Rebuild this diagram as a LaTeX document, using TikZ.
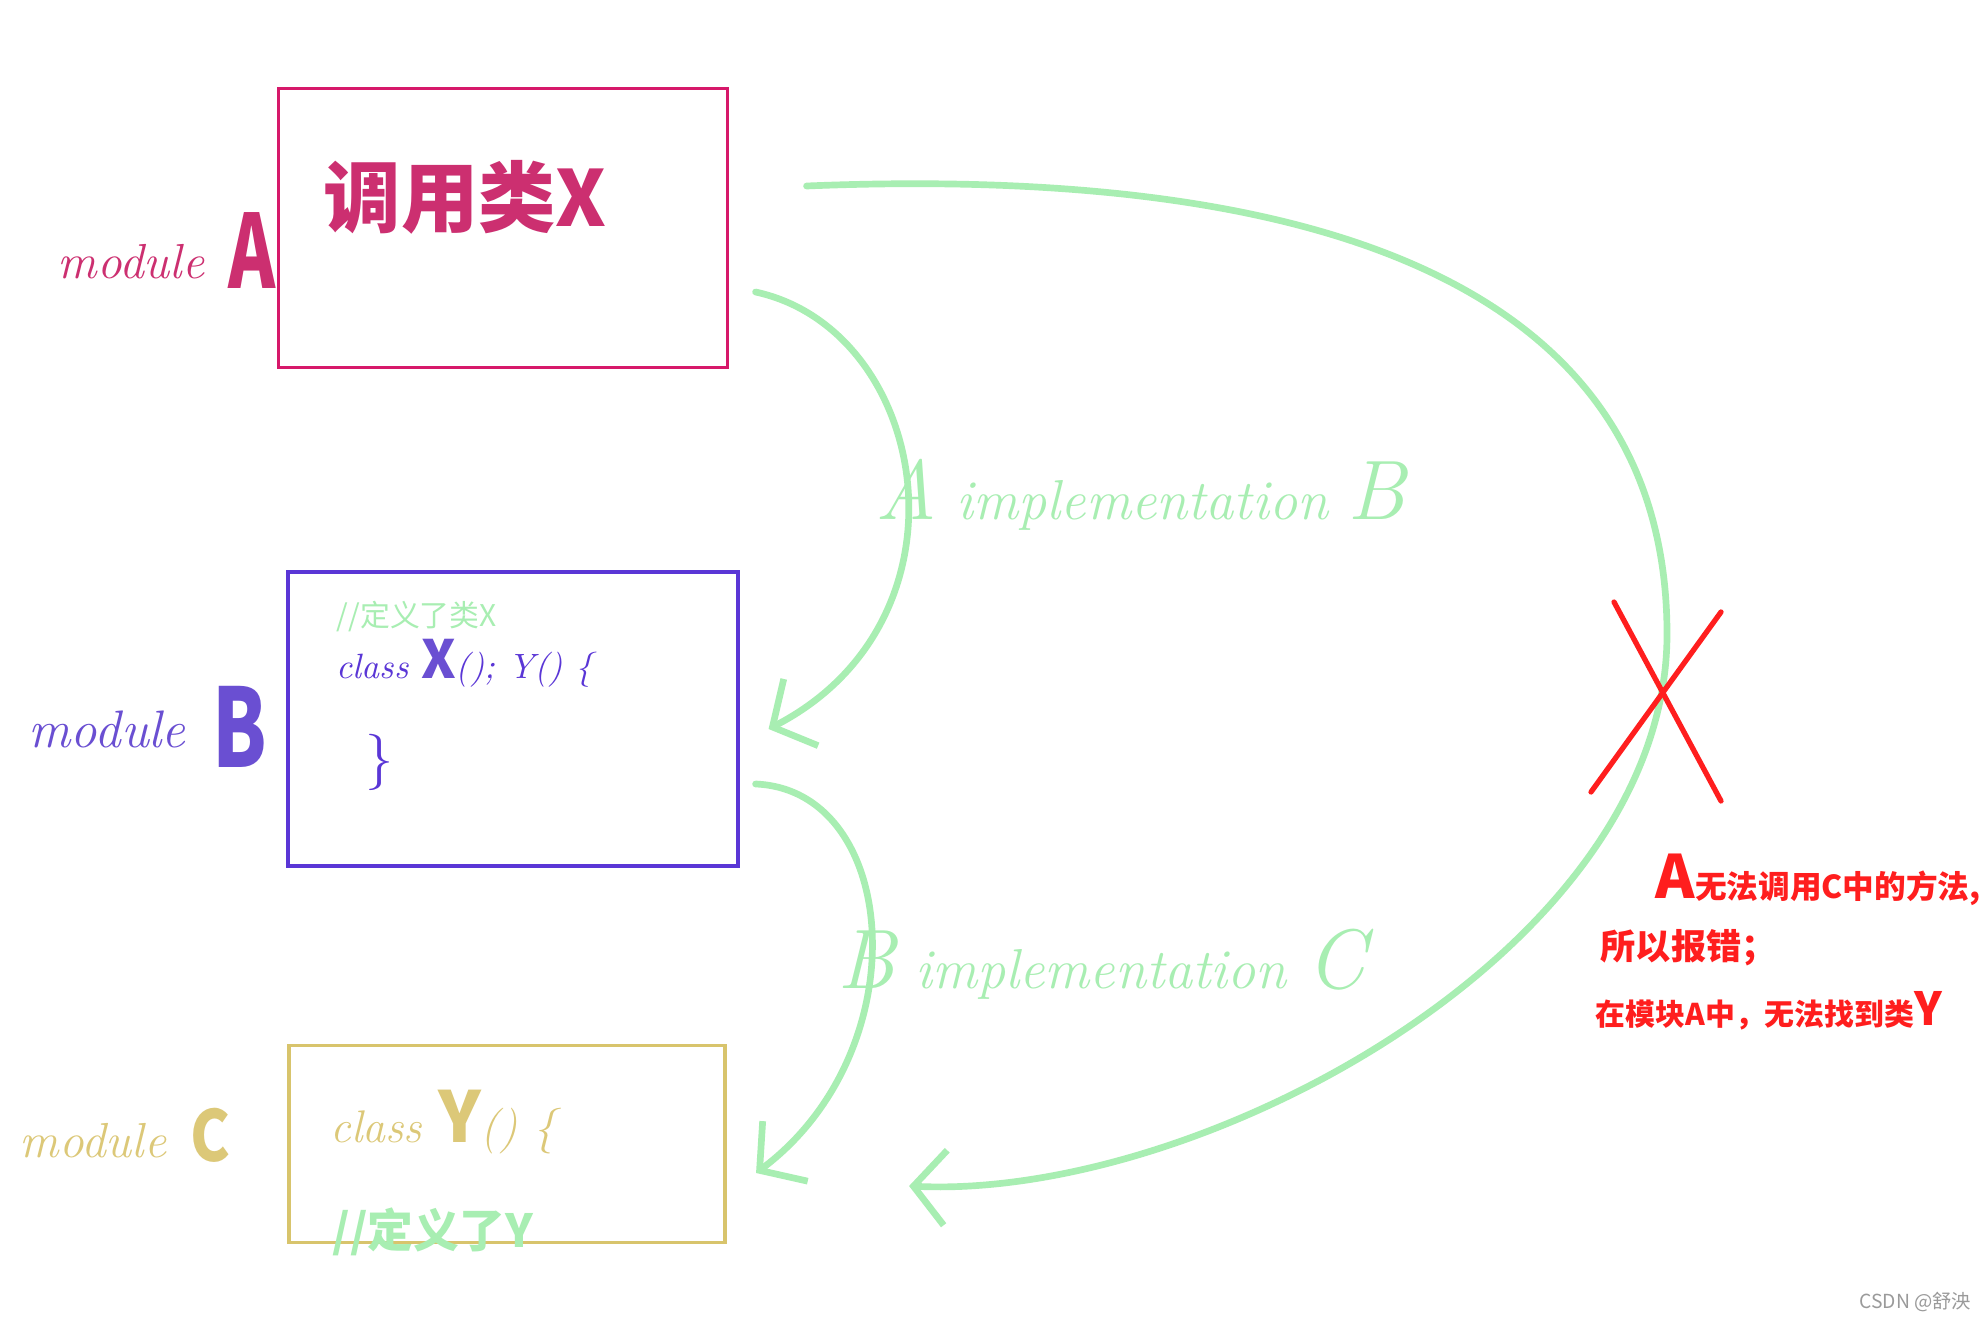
\documentclass[tikz,border=0pt]{standalone}
\usepackage{fontspec}
\newfontfamily\cjk{Noto Sans CJK SC}
\usetikzlibrary{arrows.meta,calc}
\definecolor{modpink}{HTML}{CC2F70}
\definecolor{boxpink}{HTML}{D6186A}
\definecolor{modpurple}{HTML}{6A4FD2}
\definecolor{boxpurple}{HTML}{5A36D6}
\definecolor{modyellow}{HTML}{DCC878}
\definecolor{boxyellow}{HTML}{D8C46C}
\definecolor{softgreen}{HTML}{A8EEB2}
\definecolor{errred}{HTML}{FF1E1E}
\definecolor{markgray}{HTML}{9A9A9A}

\begin{document}
\begin{tikzpicture}[x=0.01cm,y=-0.01cm,
  modbox/.style={draw,rectangle,inner sep=0pt},
  hand/.style={inner sep=0pt,anchor=west},
  flow/.style={draw=softgreen,line width=1.9pt,line cap=round,
    -{Straight Barb[length=3.2mm,width=7.5mm]}}]
\useasboundingbox[fill=white] (0,0) rectangle (1988,1322);

% module boxes
\node[modbox,draw=boxpink,line width=0.8pt,minimum width=4.48cm,minimum height=2.79cm] (boxA) at (503,228) {};
\node[modbox,draw=boxpurple,line width=1.1pt,minimum width=4.49cm,minimum height=2.93cm] (boxB) at (513,719) {};
\node[modbox,draw=boxyellow,line width=1.1pt,minimum width=4.36cm,minimum height=1.97cm] (boxC) at (507,1144) {};

% module names
\node[hand,text=modpink,font=\itshape\fontsize{14}{16}\selectfont] (modA) at (57,262) {module};
\node[hand,text=modpink,font=\cjk\bfseries\fontsize{29}{31}\selectfont] (letA) at (228,251) {\scalebox{0.7}[1]{A}};
\node[hand,text=modpurple,font=\itshape\fontsize{15}{17}\selectfont] (modB) at (28,729) {module};
\node[hand,text=modpurple,font=\cjk\bfseries\fontsize{31}{33}\selectfont] (letB) at (212,727) {\scalebox{0.72}[1]{B}};
\node[hand,text=modyellow,font=\itshape\fontsize{14}{16}\selectfont] (modC) at (19,1141) {module};
\node[hand,text=modyellow,font=\cjk\bfseries\fontsize{20}{22}\selectfont] (letC) at (190,1135) {\scalebox{0.85}[1]{C}};

% box contents
\node[hand,text=modpink,font=\cjk\bfseries\fontsize{22}{24}\selectfont] (callX) at (323,197) {调用类X};
\node[hand,text=softgreen,font=\cjk\fontsize{8.5}{10}\selectfont] (noteX) at (336,617) {//定义了类X};
\node[hand,text=boxpurple,font=\itshape\fontsize{10}{12}\selectfont] (classX) at (336,663)
  {class {\upshape\cjk\bfseries\fontsize{15}{17}\selectfont\color{modpurple}X}(); Y() \{};
\node[hand,text=boxpurple,font=\fontsize{16}{18}\selectfont] (closeB) at (365,762) {\}};
\node[hand,text=modyellow,font=\itshape\fontsize{13}{15}\selectfont] (classY) at (330,1122)
  {class {\upshape\cjk\bfseries\fontsize{20}{22}\selectfont Y}() \{};
\node[hand,text=softgreen,font=\cjk\bfseries\fontsize{13}{15}\selectfont] (noteY) at (332,1232) {//定义了Y};

% arrows
\coordinate (a1s) at ($(boxA.east)+(27,64)$);
\coordinate (a1e) at ($(boxB.east)+(29,10)$);
\coordinate (a2s) at ($(boxB.east)+(16,65)$);
\coordinate (a2e) at ($(boxC.east)+(29,29)$);
\coordinate (bigs) at ($(boxA.north east)+(78,99)$);
\coordinate (bige) at ($(boxC.east)+(182,42)$);
\draw[flow] (a1s) .. controls (930,330) and (980,620) .. (a1e);
\draw[flow] (a2s) .. controls (900,790) and (920,1050) .. (a2e);
\draw[flow] (bigs) .. controls (1200,170) and (1667,230) .. (1667,634)
  .. controls (1667,950) and (1200,1200) .. (bige);

\node[hand,text=softgreen,font=\itshape\fontsize{16}{18}\selectfont] (implAB) at (875,495)
  {{\fontsize{24}{26}\selectfont A} implementation {\fontsize{24}{26}\selectfont B}};
\node[hand,text=softgreen,font=\itshape\fontsize{16}{18}\selectfont] (implBC) at (837,964)
  {{\fontsize{24}{26}\selectfont B} implementation {\fontsize{24}{26}\selectfont C}};

% error mark
\draw[errred,line width=1.5pt,line cap=round] (1614,602) -- (1721,801);
\draw[errred,line width=1.5pt,line cap=round] (1721,612) -- (1591,792);
\node[hand,text=errred,font=\cjk\bfseries\fontsize{9}{11}\selectfont] (err1) at (1655,880)
  {{\fontsize{17}{19}\selectfont A}无法调用C中的方法,};
\node[hand,text=errred,font=\cjk\bfseries\fontsize{10}{12}\selectfont] (err2) at (1600,948) {所以报错；};
\node[hand,text=errred,font=\cjk\bfseries\fontsize{8.5}{10}\selectfont] (err3) at (1595,1011)
  {在模块A中，无法找到类{\fontsize{13}{15}\selectfont Y}};

\node[text=markgray,font=\cjk\fontsize{5.5}{6}\selectfont,anchor=east,inner sep=0pt] (mark) at (1972,1302) {CSDN @舒泱};
\end{tikzpicture}
\end{document}
